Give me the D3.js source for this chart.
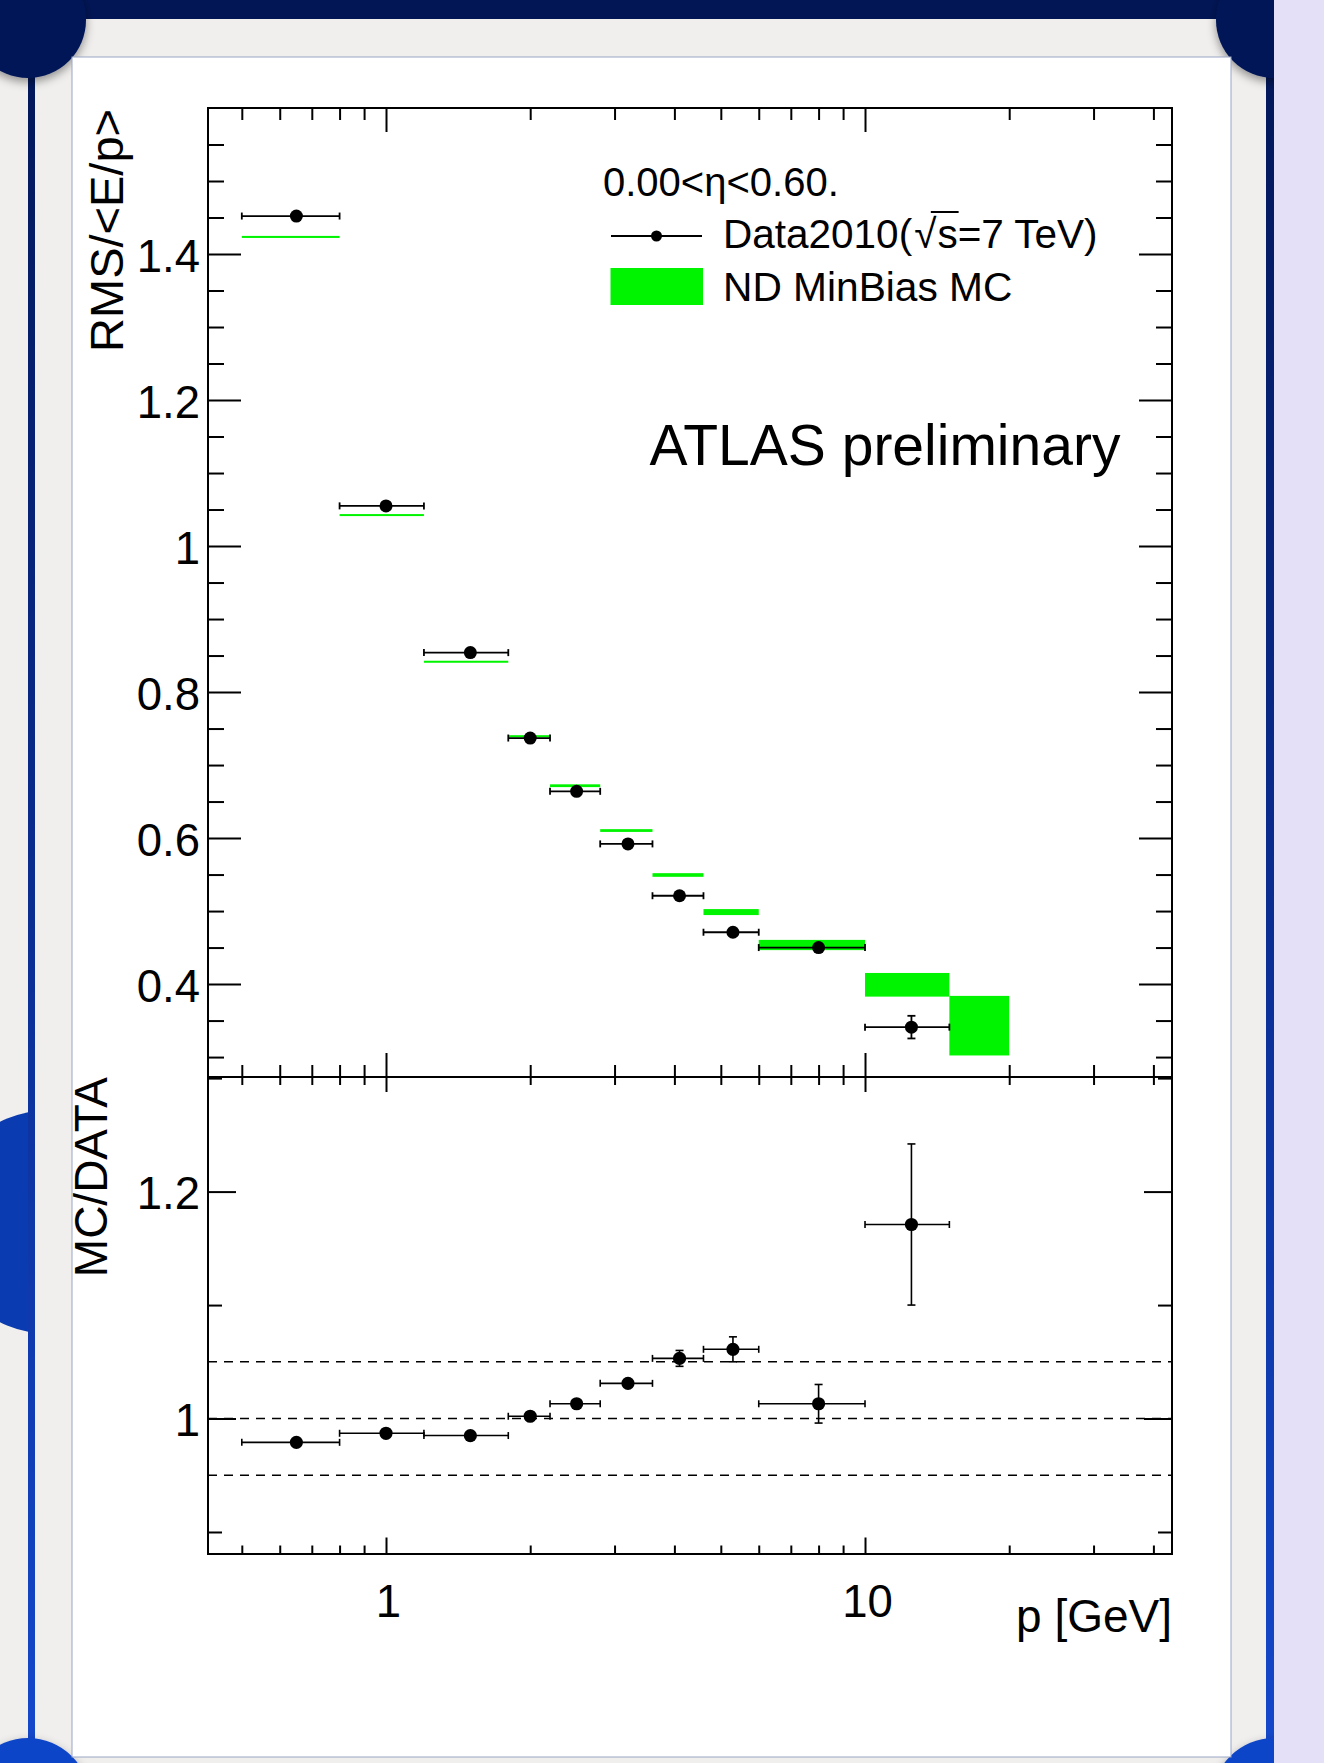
<!DOCTYPE html>
<html><head><meta charset="utf-8">
<script src="https://cdn.jsdelivr.net/npm/d3@7"></script>
<style>
body{margin:0;background:#f0efed;}
svg{display:block;font-family:"Liberation Sans",Arial,Helvetica,sans-serif;}
</style>
</head><body>
<svg id="c" width="1324" height="1763"></svg>
<script>
// ---------------- DATA ----------------
const binEdges = [0.5, 0.8, 1.2, 1.8, 2.2, 2.8, 3.6, 4.6, 6, 10, 15, 20];
const dataVals = [1.452, 1.055, 0.854, 0.737, 0.664, 0.592, 0.521, 0.471, 0.450, 0.341, null];
const dataErr  = [0.002, 0.002, 0.002, 0.002, 0.002, 0.002, 0.002, 0.003, 0.004, 0.0155, null];
const mcVals   = [1.4234, 1.0424, 0.8415, 0.7394, 0.6717, 0.6103, 0.5494, 0.4986, 0.4535, 0.399, 0.343];
const mcErr    = [0.0014, 0.0010, 0.0008, 0.0015, 0.0019, 0.0019, 0.0025, 0.0041, 0.007, 0.0162, 0.0408];
const ratioVals = [0.979, 0.987, 0.985, 1.002, 1.013, 1.031, 1.053, 1.061, 1.013, 1.171, null];
const ratioErr  = [0.002, 0.002, 0.002, 0.002, 0.003, 0.004, 0.007, 0.011, 0.017, 0.071, null];
const refLines = [0.95, 1.0, 1.05];

const xMajor = [1, 10];
const xMinor = [0.5, 0.6, 0.7, 0.8, 0.9, 2, 3, 4, 5, 6, 7, 8, 9, 20, 30, 40];
const topMinor = [0.3,0.35,0.45,0.5,0.55,0.65,0.7,0.75,0.85,0.9,0.95,1.05,1.1,1.15,1.25,1.3,1.35,1.45,1.5,1.55];
const ratMajor = [1.0, 1.2];
const ratMinor = [0.9, 1.1, 1.3];
const topLabels = [0.4, 0.6, 0.8, 1.0, 1.2, 1.4];

// ---------------- LAYOUT ----------------
const W = 1324, H = 1763;
const X0 = 208, X1 = 1172, YT = 108, YM = 1077, YB = 1554;
const svg = d3.select("#c");
const defs = svg.append("defs");

// ---------- slide decoration ----------
const grad = defs.append("linearGradient").attr("id","sideg").attr("x1",0).attr("y1",0).attr("x2",0).attr("y2",1);
grad.append("stop").attr("offset","0").attr("stop-color","#021656");
grad.append("stop").attr("offset","0.5").attr("stop-color","#0a2c90");
grad.append("stop").attr("offset","1").attr("stop-color","#1448cc");
const sh = defs.append("filter").attr("id","sh").attr("x","-50%").attr("y","-50%").attr("width","200%").attr("height","200%");
sh.append("feDropShadow").attr("dx",0).attr("dy",4).attr("stdDeviation",5).attr("flood-color","#000").attr("flood-opacity",0.4);
defs.append("clipPath").attr("id","leftclip").append("rect").attr("x",0).attr("y",0).attr("width",35).attr("height",H);
defs.append("clipPath").attr("id","mainclip").append("rect").attr("x",0).attr("y",0).attr("width",1274).attr("height",H);

svg.append("rect").attr("width",W).attr("height",H).attr("fill","#f0efed");
const deco = svg.append("g").attr("clip-path","url(#mainclip)");
deco.append("circle").attr("cx",50).attr("cy",1222).attr("r",112).attr("fill","#0b3bb0").attr("clip-path","url(#leftclip)");
deco.append("rect").attr("x",28).attr("y",0).attr("width",7).attr("height",H).attr("fill","url(#sideg)");
deco.append("rect").attr("x",1266).attr("y",0).attr("width",8).attr("height",H).attr("fill","url(#sideg)");
deco.append("rect").attr("x",0).attr("y",0).attr("width",1274).attr("height",19).attr("fill","#021656");
deco.append("circle").attr("cx",28).attr("cy",20).attr("r",58).attr("fill","#021656").attr("filter","url(#sh)");
deco.append("circle").attr("cx",1274).attr("cy",20).attr("r",58).attr("fill","#021656").attr("filter","url(#sh)");
deco.append("circle").attr("cx",28).attr("cy",1800).attr("r",62).attr("fill","#1044c8").attr("filter","url(#sh)");
deco.append("circle").attr("cx",1274).attr("cy",1800).attr("r",62).attr("fill","#1044c8").attr("filter","url(#sh)");
svg.append("rect").attr("x",1274).attr("y",0).attr("width",50).attr("height",H).attr("fill","#e3e0f8");
svg.append("rect").attr("x",72).attr("y",57).attr("width",1159).attr("height",1700)
  .attr("fill","#fff").attr("stroke","#9aa6c4").attr("stroke-width",1);

// ---------------- SCALES ----------------
const x = d3.scaleLog().domain([0.425, 43.74]).range([X0, X1]);
const yTop = d3.scaleLinear().domain([0.2727, 1.6]).range([YM, YT]);
const yRat = d3.scaleLinear().domain([0.8806, 1.301]).range([YB, YM]);
const fmt = d => String(+(+d).toFixed(1));

function styleAxis(g, fs) {
  g.select(".domain").remove();
  g.attr("font-family", null).attr("font-size", fs);
  g.selectAll("line").attr("stroke", "#000").attr("stroke-width", 2);
  g.selectAll("text").attr("fill", "#000");
}
const noLab = () => "";

// ---------------- TOP PANEL AXES ----------------
const axes = svg.append("g");
axes.append("g").attr("transform",`translate(${X0},0)`)
  .call(d3.axisLeft(yTop).tickValues(topLabels).tickSize(-33).tickPadding(8).tickFormat(fmt))
  .call(g => styleAxis(g, 45.5)).call(g => g.selectAll("text").attr("dy","0.38em"));
axes.append("g").attr("transform",`translate(${X0},0)`)
  .call(d3.axisLeft(yTop).tickValues(topMinor).tickSize(-16).tickFormat(noLab)).call(g => styleAxis(g, 10));
axes.append("g").attr("transform",`translate(${X1},0)`)
  .call(d3.axisRight(yTop).tickValues(topLabels).tickSize(-33).tickFormat(noLab)).call(g => styleAxis(g, 10));
axes.append("g").attr("transform",`translate(${X1},0)`)
  .call(d3.axisRight(yTop).tickValues(topMinor).tickSize(-16).tickFormat(noLab)).call(g => styleAxis(g, 10));
axes.append("g").attr("transform",`translate(0,${YT})`)
  .call(d3.axisTop(x).tickValues(xMajor).tickSize(-24).tickFormat(noLab)).call(g => styleAxis(g, 10));
axes.append("g").attr("transform",`translate(0,${YT})`)
  .call(d3.axisTop(x).tickValues(xMinor).tickSize(-12).tickFormat(noLab)).call(g => styleAxis(g, 10));
axes.append("g").attr("transform",`translate(0,${YM})`)
  .call(d3.axisBottom(x).tickValues(xMajor).tickSize(-24).tickFormat(noLab)).call(g => styleAxis(g, 10));
axes.append("g").attr("transform",`translate(0,${YM})`)
  .call(d3.axisBottom(x).tickValues(xMinor).tickSize(-12).tickFormat(noLab)).call(g => styleAxis(g, 10));

// ---------------- RATIO PANEL AXES ----------------
axes.append("g").attr("transform",`translate(${X0},0)`)
  .call(d3.axisLeft(yRat).tickValues(ratMajor).tickSize(-28).tickPadding(8).tickFormat(fmt))
  .call(g => styleAxis(g, 45.5)).call(g => g.selectAll("text").attr("dy","0.38em"));
axes.append("g").attr("transform",`translate(${X0},0)`)
  .call(d3.axisLeft(yRat).tickValues(ratMinor).tickSize(-14).tickFormat(noLab)).call(g => styleAxis(g, 10));
axes.append("g").attr("transform",`translate(${X1},0)`)
  .call(d3.axisRight(yRat).tickValues(ratMajor).tickSize(-28).tickFormat(noLab)).call(g => styleAxis(g, 10));
axes.append("g").attr("transform",`translate(${X1},0)`)
  .call(d3.axisRight(yRat).tickValues(ratMinor).tickSize(-14).tickFormat(noLab)).call(g => styleAxis(g, 10));
axes.append("g").attr("transform",`translate(0,${YM})`)
  .call(d3.axisTop(x).tickValues(xMajor).tickSize(-15).tickFormat(noLab)).call(g => styleAxis(g, 10));
axes.append("g").attr("transform",`translate(0,${YM})`)
  .call(d3.axisTop(x).tickValues(xMinor).tickSize(-8).tickFormat(noLab)).call(g => styleAxis(g, 10));
axes.append("g").attr("transform",`translate(0,${YB})`)
  .call(d3.axisBottom(x).tickValues(xMajor).tickSize(-16.5).tickPadding(31).tickFormat(d => d3.format("d")(d)))
  .call(g => styleAxis(g, 45.5)).call(g => g.selectAll("text").attr("dx", 2));
axes.append("g").attr("transform",`translate(0,${YB})`)
  .call(d3.axisBottom(x).tickValues(xMinor).tickSize(-8.5).tickFormat(noLab)).call(g => styleAxis(g, 10));

// frames
svg.append("rect").attr("x",X0).attr("y",YT).attr("width",X1-X0).attr("height",YM-YT)
  .attr("fill","none").attr("stroke","#000").attr("stroke-width",2);
svg.append("rect").attr("x",X0).attr("y",YM).attr("width",X1-X0).attr("height",YB-YM)
  .attr("fill","none").attr("stroke","#000").attr("stroke-width",2);

// ---------------- TOP PANEL CONTENT ----------------
const bins = mcVals.map((v, i) => ({
  lo: binEdges[i], hi: binEdges[i+1], c: (binEdges[i] + binEdges[i+1]) / 2,
  mc: v, mcE: mcErr[i], d: dataVals[i], dE: dataErr[i], r: ratioVals[i], rE: ratioErr[i]
}));

const topG = svg.append("g");
topG.selectAll("rect.mc").data(bins).join("rect").attr("class","mc")
  .attr("x", d => x(d.lo)).attr("width", d => x(d.hi) - x(d.lo))
  .attr("y", d => Math.min(yTop(d.mc + d.mcE), yTop(d.mc) - 1))
  .attr("height", d => Math.max(yTop(d.mc - d.mcE) - yTop(d.mc + d.mcE), 2))
  .attr("fill", "#00f400");

function drawPoints(g, pts, yS, valKey, errKey, r, sw) {
  const P = pts.filter(p => p[valKey] != null);
  const cap = 3.5;
  g.selectAll(null).data(P).join("line")
    .attr("x1", d => x(d.lo)).attr("x2", d => x(d.hi))
    .attr("y1", d => yS(d[valKey])).attr("y2", d => yS(d[valKey]))
    .attr("stroke","#000").attr("stroke-width", sw);
  g.selectAll(null).data(P.flatMap(d => [[d.lo, d[valKey]], [d.hi, d[valKey]]])).join("line")
    .attr("x1", d => x(d[0])).attr("x2", d => x(d[0]))
    .attr("y1", d => yS(d[1]) - cap).attr("y2", d => yS(d[1]) + cap)
    .attr("stroke","#000").attr("stroke-width", sw);
  const V = P.filter(d => (yS(d[valKey] - d[errKey]) - yS(d[valKey] + d[errKey])) / 2 > r);
  g.selectAll(null).data(V).join("line")
    .attr("x1", d => x(d.c)).attr("x2", d => x(d.c))
    .attr("y1", d => yS(d[valKey] + d[errKey])).attr("y2", d => yS(d[valKey] - d[errKey]))
    .attr("stroke","#000").attr("stroke-width", sw);
  g.selectAll(null).data(V.flatMap(d => [d[valKey] + d[errKey], d[valKey] - d[errKey]].map(v => [d.c, v]))).join("line")
    .attr("x1", d => x(d[0]) - 4).attr("x2", d => x(d[0]) + 4)
    .attr("y1", d => yS(d[1])).attr("y2", d => yS(d[1]))
    .attr("stroke","#000").attr("stroke-width", sw);
  g.selectAll(null).data(P).join("circle")
    .attr("cx", d => x(d.c)).attr("cy", d => yS(d[valKey])).attr("r", r).attr("fill","#000");
}
drawPoints(topG, bins, yTop, "d", "dE", 6.5, 1.8);

// ---------------- RATIO PANEL CONTENT ----------------
const ratG = svg.append("g");
ratG.selectAll("line.ref").data(refLines).join("line").attr("class","ref")
  .attr("x1", X0).attr("x2", X1).attr("y1", d => yRat(d)).attr("y2", d => yRat(d))
  .attr("stroke","#000").attr("stroke-width",1.4).attr("stroke-dasharray","9,7");
drawPoints(ratG, bins, yRat, "r", "rE", 6.6, 1.6);

// ---------------- LEGEND & TEXT ----------------
const T = svg.append("g").attr("fill","#000");
T.append("text").attr("x",603).attr("y",196).attr("font-size",40).text("0.00<η<0.60.");
T.append("line").attr("x1",611).attr("x2",702).attr("y1",236).attr("y2",236).attr("stroke","#000").attr("stroke-width",1.8);
T.append("circle").attr("cx",656.5).attr("cy",236).attr("r",5.5).attr("fill","#000");
const dt = T.append("text").attr("x",723).attr("y",248).attr("font-size",40.5);
dt.append("tspan").text("Data2010(");
dt.append("tspan").attr("dx",2).text("√");
dt.append("tspan").attr("dx",1).text("s=7 TeV)");
T.append("rect").attr("x",610.5).attr("y",268).attr("width",92.5).attr("height",37).attr("fill","#00f400");
T.append("text").attr("x",723).attr("y",301).attr("font-size",40.7).text("ND MinBias MC");
{
  const node = dt.node();
  const str = "Data2010(√s=7 TeV)";
  const iR = str.indexOf("√"), iS = iR + 1;
  const ext = node.getExtentOfChar(iR);
  const b = node.getEndPositionOfChar(iS);
  T.append("line").attr("x1", ext.x + ext.width * 0.75).attr("x2", b.x + 1)
    .attr("y1", ext.y + 1).attr("y2", ext.y + 1).attr("stroke","#000").attr("stroke-width",2);
}
T.append("text").attr("x",649.5).attr("y",465).attr("font-size",57).text("ATLAS preliminary");

T.append("text").attr("transform","translate(123,109) rotate(-90)").attr("text-anchor","end")
  .attr("font-size",47).text("RMS/<E/p>");
T.append("text").attr("transform","translate(107,1077) rotate(-90)").attr("text-anchor","end")
  .attr("font-size",46).text("MC/DATA");
T.append("text").attr("x",X1).attr("y",1632).attr("text-anchor","end").attr("font-size",46).text("p [GeV]");
</script>
</body></html>
